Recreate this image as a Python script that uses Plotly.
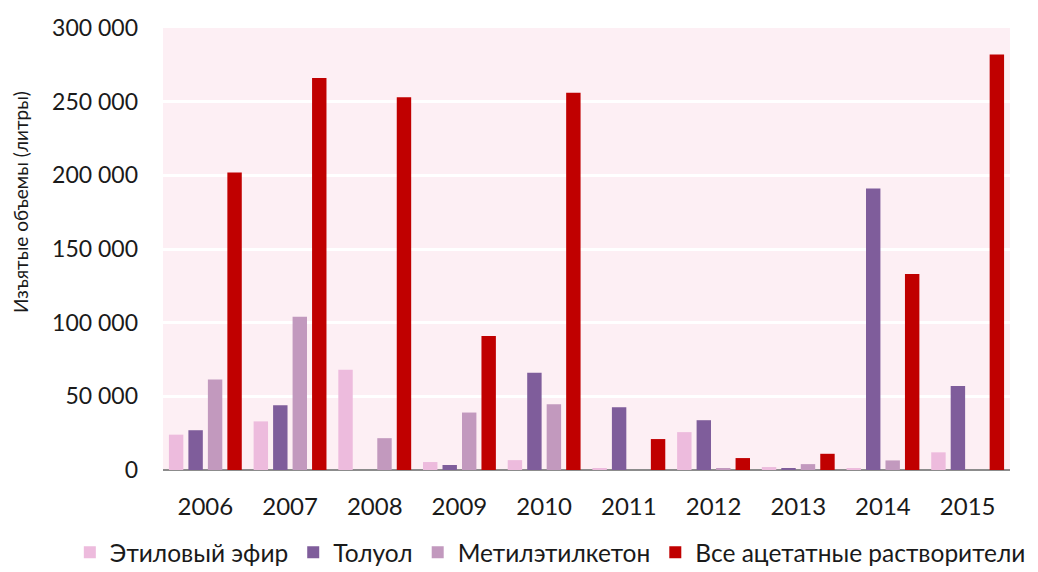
import plotly.graph_objects as go

years = ["2006", "2007", "2008", "2009", "2010", "2011", "2012", "2013", "2014", "2015"]

ethyl_ether = [24000, 33000, 68000, 5400, 6700, 1000, 25700, 2000, 1000, 12000]
toluene = [27000, 44000, 0, 3400, 66000, 42600, 33800, 1000, 191000, 57000]
mek = [61500, 104000, 21600, 39000, 44600, 0, 1000, 4000, 6500, 0]
acetates = [202000, 266000, 253000, 91000, 256000, 21000, 8100, 11000, 133000, 282000]

series = [
    ("Этиловый эфир", ethyl_ether, "#EDBBDD"),
    ("Толуол", toluene, "#7F5D9B"),
    ("Метилэтилкетон", mek, "#C299BE"),
    ("Все ацетатные растворители", acetates, "#C00000"),
]

tick_vals = [0, 50000, 100000, 150000, 200000, 250000, 300000]
tick_text = ["0", "50 000", "100 000", "150 000", "200 000", "250 000", "300 000"]

fig = go.Figure()
for name, vals, color in series:
    fig.add_trace(go.Bar(x=years, y=vals, name=name, marker_color=color,
                         marker_line_width=0))

font = "Lato, 'Open Sans', sans-serif"
fig.update_layout(
    width=1038, height=572,
    margin=dict(l=163, r=28, t=28, b=102, autoexpand=False),
    paper_bgcolor="white",
    plot_bgcolor="#FDEFF4",
    barmode="group",
    bargap=0.08,
    bargroupgap=0.26,
    font=dict(family=font, size=23, color="#1a1a1a"),
    showlegend=True,
    legend=dict(orientation="h", x=-0.11, xanchor="left", y=-0.186, yanchor="middle",
                font=dict(size=24.5), traceorder="normal", itemwidth=30),
    xaxis=dict(showgrid=False, showline=False, ticks="", tickfont=dict(size=24),
               ticklabelstandoff=20),
    yaxis=dict(range=[0, 300000], tickvals=tick_vals, ticktext=tick_text,
               showgrid=True, gridcolor="white", gridwidth=3,
               zeroline=True, zerolinecolor="#8c8c8c", zerolinewidth=2,
               ticks="", ticklabelstandoff=24, tickfont=dict(size=23)),
    annotations=[dict(text="Изъятые объемы (литры)", textangle=-90,
                      xref="paper", yref="paper", x=-0.169, y=0.606,
                      xanchor="center", yanchor="middle", showarrow=False,
                      font=dict(size=19))],
)

fig.write_html("out.html")
